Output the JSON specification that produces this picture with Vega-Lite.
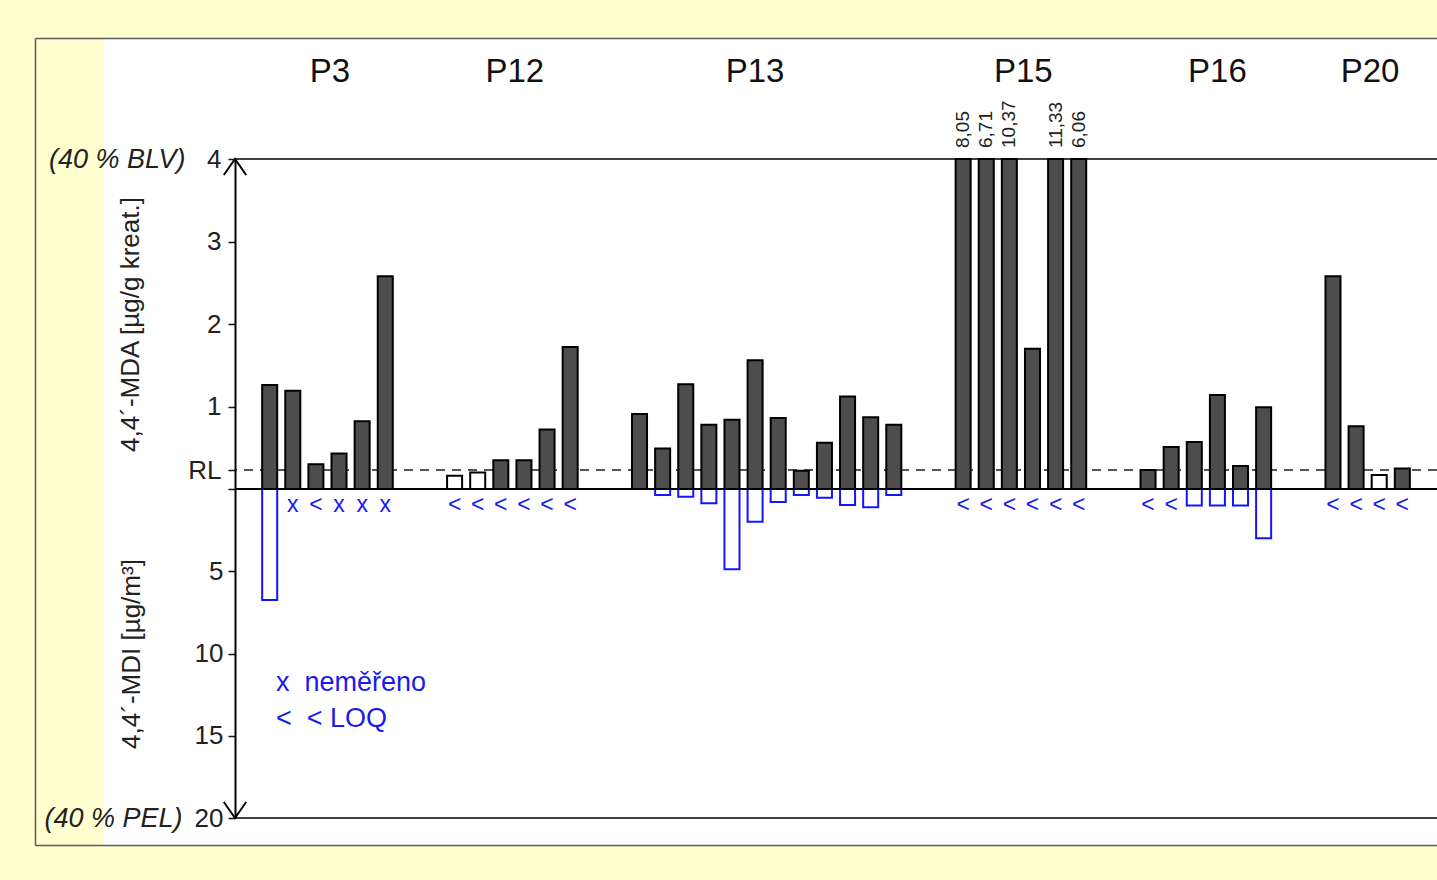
{
  "$schema": "https://vega.github.io/schema/vega-lite/v6.json",
  "width": 1202,
  "height": 807,
  "autosize": {"type": "none"},
  "padding": {"left": 235, "top": 38, "right": 0, "bottom": 35},
  "background": "#FFFFD0",
  "config": {
    "view": {"fill": "#ffffff", "stroke": null},
    "font": "Liberation Sans",
    "axis": {"labelFont": "Liberation Sans", "titleFont": "Liberation Sans", "grid": false},
    "locale": {"number": {"decimal": ",", "thousands": "\u00a0", "grouping": [3], "currency": ["", "\u00a0Kč"]}}
  },
  "data": {
    "values": [
      {"id": "P3-1", "group": "P3", "mda": 1.26, "mdi": 6.75, "mdi_note": null, "mda_below_loq": false},
      {"id": "P3-2", "group": "P3", "mda": 1.19, "mdi": null, "mdi_note": "x", "mda_below_loq": false},
      {"id": "P3-3", "group": "P3", "mda": 0.30, "mdi": null, "mdi_note": "<", "mda_below_loq": false},
      {"id": "P3-4", "group": "P3", "mda": 0.43, "mdi": null, "mdi_note": "x", "mda_below_loq": false},
      {"id": "P3-5", "group": "P3", "mda": 0.82, "mdi": null, "mdi_note": "x", "mda_below_loq": false},
      {"id": "P3-6", "group": "P3", "mda": 2.58, "mdi": null, "mdi_note": "x", "mda_below_loq": false},
      {"id": "P12-1", "group": "P12", "mda": 0.16, "mdi": null, "mdi_note": "<", "mda_below_loq": true},
      {"id": "P12-2", "group": "P12", "mda": 0.20, "mdi": null, "mdi_note": "<", "mda_below_loq": true},
      {"id": "P12-3", "group": "P12", "mda": 0.35, "mdi": null, "mdi_note": "<", "mda_below_loq": false},
      {"id": "P12-4", "group": "P12", "mda": 0.35, "mdi": null, "mdi_note": "<", "mda_below_loq": false},
      {"id": "P12-5", "group": "P12", "mda": 0.72, "mdi": null, "mdi_note": "<", "mda_below_loq": false},
      {"id": "P12-6", "group": "P12", "mda": 1.72, "mdi": null, "mdi_note": "<", "mda_below_loq": false},
      {"id": "P13-1", "group": "P13", "mda": 0.91, "mdi": null, "mdi_note": null, "mda_below_loq": false},
      {"id": "P13-2", "group": "P13", "mda": 0.49, "mdi": 0.36, "mdi_note": null, "mda_below_loq": false},
      {"id": "P13-3", "group": "P13", "mda": 1.27, "mdi": 0.47, "mdi_note": null, "mda_below_loq": false},
      {"id": "P13-4", "group": "P13", "mda": 0.78, "mdi": 0.87, "mdi_note": null, "mda_below_loq": false},
      {"id": "P13-5", "group": "P13", "mda": 0.84, "mdi": 4.88, "mdi_note": null, "mda_below_loq": false},
      {"id": "P13-6", "group": "P13", "mda": 1.56, "mdi": 1.99, "mdi_note": null, "mda_below_loq": false},
      {"id": "P13-7", "group": "P13", "mda": 0.86, "mdi": 0.79, "mdi_note": null, "mda_below_loq": false},
      {"id": "P13-8", "group": "P13", "mda": 0.22, "mdi": 0.36, "mdi_note": null, "mda_below_loq": false},
      {"id": "P13-9", "group": "P13", "mda": 0.56, "mdi": 0.53, "mdi_note": null, "mda_below_loq": false},
      {"id": "P13-10", "group": "P13", "mda": 1.12, "mdi": 0.97, "mdi_note": null, "mda_below_loq": false},
      {"id": "P13-11", "group": "P13", "mda": 0.87, "mdi": 1.11, "mdi_note": null, "mda_below_loq": false},
      {"id": "P13-12", "group": "P13", "mda": 0.78, "mdi": 0.36, "mdi_note": null, "mda_below_loq": false},
      {"id": "P15-1", "group": "P15", "mda": 8.05, "mdi": null, "mdi_note": "<", "mda_below_loq": false},
      {"id": "P15-2", "group": "P15", "mda": 6.71, "mdi": null, "mdi_note": "<", "mda_below_loq": false},
      {"id": "P15-3", "group": "P15", "mda": 10.37, "mdi": null, "mdi_note": "<", "mda_below_loq": false},
      {"id": "P15-4", "group": "P15", "mda": 1.70, "mdi": null, "mdi_note": "<", "mda_below_loq": false},
      {"id": "P15-5", "group": "P15", "mda": 11.33, "mdi": null, "mdi_note": "<", "mda_below_loq": false},
      {"id": "P15-6", "group": "P15", "mda": 6.06, "mdi": null, "mdi_note": "<", "mda_below_loq": false},
      {"id": "P16-1", "group": "P16", "mda": 0.23, "mdi": null, "mdi_note": "<", "mda_below_loq": false},
      {"id": "P16-2", "group": "P16", "mda": 0.51, "mdi": null, "mdi_note": "<", "mda_below_loq": false},
      {"id": "P16-3", "group": "P16", "mda": 0.57, "mdi": 1.01, "mdi_note": null, "mda_below_loq": false},
      {"id": "P16-4", "group": "P16", "mda": 1.14, "mdi": 1.01, "mdi_note": null, "mda_below_loq": false},
      {"id": "P16-5", "group": "P16", "mda": 0.28, "mdi": 1.01, "mdi_note": null, "mda_below_loq": false},
      {"id": "P16-6", "group": "P16", "mda": 0.99, "mdi": 3.0, "mdi_note": null, "mda_below_loq": false},
      {"id": "P20-1", "group": "P20", "mda": 2.58, "mdi": null, "mdi_note": "<", "mda_below_loq": false},
      {"id": "P20-2", "group": "P20", "mda": 0.76, "mdi": null, "mdi_note": "<", "mda_below_loq": false},
      {"id": "P20-3", "group": "P20", "mda": 0.17, "mdi": null, "mdi_note": "<", "mda_below_loq": true},
      {"id": "P20-4", "group": "P20", "mda": 0.25, "mdi": null, "mdi_note": "<", "mda_below_loq": false}
    ]
  },
  "layer": [
    {
      "layer": [
        {
          "data": {"values": [{}]},
          "mark": {"type": "rule", "color": "#555555", "strokeWidth": 2, "strokeDash": [9, 7]},
          "encoding": {"y": {"datum": 0.23, "type": "quantitative", "axis": null}}
        },
        {
          "mark": {"type": "bar", "stroke": "#000000", "strokeWidth": 2},
          "encoding": {
            "x": {
              "field": "id",
              "type": "nominal",
              "scale": {
                "domain": ["_L","P3-1","P3-2","P3-3","P3-4","P3-5","P3-6","g1","g2","P12-1","P12-2","P12-3","P12-4","P12-5","P12-6","g3","g4","P13-1","P13-2","P13-3","P13-4","P13-5","P13-6","P13-7","P13-8","P13-9","P13-10","P13-11","P13-12","g5","g6","P15-1","P15-2","P15-3","P15-4","P15-5","P15-6","g7","g8","P16-1","P16-2","P16-3","P16-4","P16-5","P16-6","g9","g10","P20-1","P20-2","P20-3","P20-4","_R"],
                "paddingInner": 0.35,
                "paddingOuter": 0.175
              },
              "axis": null
            },
            "y": {
              "field": "mda",
              "type": "quantitative",
              "scale": {"domain": [0, 4], "range": [451, 121], "clamp": true, "nice": false, "zero": true},
              "axis": {
                "orient": "left",
                "values": [0, 0.23, 1, 2, 3, 4],
                "labelExpr": "datum.value == 0 ? '' : (datum.value < 0.5 ? 'RL' : toString(datum.value))",
                "labelOverlap": false,
                "labelFontSize": 26,
                "labelColor": "#222222",
                "labelPadding": 7,
                "tickSize": 7,
                "tickColor": "#111111",
                "tickWidth": 1.5,
                "domainColor": "#000000",
                "domainWidth": 2,
                "title": "4,4´-MDA [µg/g kreat.]",
                "titleFontSize": 26,
                "titleFontWeight": "normal",
                "titleColor": "#222222",
                "titlePadding": 44,
                "zindex": 1
              }
            },
            "fill": {"condition": {"test": "datum.mda_below_loq", "value": "#ffffff"}, "value": "#4d4d4d"}
          }
        },
        {
          "transform": [{"filter": "datum.mda > 4"}],
          "mark": {"type": "text", "angle": 270, "align": "left", "baseline": "middle", "dx": 11, "fontSize": 19, "color": "#222222"},
          "encoding": {
            "x": {"field": "id", "type": "nominal", "axis": null},
            "y": {
              "field": "mda",
              "type": "quantitative",
              "axis": {
                "orient": "left",
                "values": [4],
                "labelExpr": "'(40 % BLV)'",
                "labelFontStyle": "italic",
                "labelFontSize": 27,
                "labelColor": "#222222",
                "labelPadding": 50,
                "ticks": false,
                "tickSize": 0,
                "domain": false,
                "title": null,
                "zindex": 1
              }
            },
            "text": {"field": "mda", "type": "quantitative", "format": ".2f"}
          }
        },
        {
          "data": {"values": [{}]},
          "mark": {"type": "rule", "color": "#000000", "strokeWidth": 1.5},
          "encoding": {"y": {"datum": 4, "type": "quantitative", "axis": null}}
        },
        {
          "data": {"values": [{}]},
          "mark": {"type": "point", "shape": "M-0.7,1L0,0L0.7,1", "size": 1024, "filled": false, "stroke": "#000000", "strokeWidth": 2, "opacity": 1},
          "encoding": {
            "x": {"datum": "_L", "type": "nominal", "bandPosition": -0.2692, "axis": null},
            "y": {"datum": 4, "type": "quantitative", "axis": null}
          }
        }
      ],
      "resolve": {"scale": {"y": "shared"}, "axis": {"y": "independent"}}
    },
    {
      "layer": [
        {
          "transform": [{"filter": "isValid(datum.mdi)"}],
          "mark": {"type": "bar", "fill": "#ffffff", "stroke": "#1414ff", "strokeWidth": 2},
          "encoding": {
            "x": {"field": "id", "type": "nominal", "axis": null},
            "y": {
              "field": "mdi",
              "type": "quantitative",
              "scale": {"domain": [0, 20], "range": [451, 780], "nice": false, "zero": true},
              "axis": {
                "orient": "left",
                "values": [5, 10, 15, 20],
                "labelExpr": "toString(datum.value)",
                "labelOverlap": false,
                "labelFontSize": 26,
                "labelColor": "#222222",
                "labelPadding": 5,
                "tickSize": 7,
                "tickColor": "#111111",
                "tickWidth": 1.5,
                "domainColor": "#000000",
                "domainWidth": 2,
                "title": "4,4´-MDI [µg/m³]",
                "titleFontSize": 26,
                "titleFontWeight": "normal",
                "titleColor": "#222222",
                "titlePadding": 50,
                "zindex": 1
              }
            }
          }
        },
        {
          "transform": [{"filter": "datum.mdi_note != null"}],
          "mark": {"type": "text", "fontSize": 23, "color": "#1a1aee", "baseline": "middle"},
          "encoding": {
            "x": {"field": "id", "type": "nominal", "axis": null},
            "y": {
              "datum": 1,
              "type": "quantitative",
              "axis": {
                "orient": "left",
                "values": [20],
                "labelExpr": "'(40 % PEL)'",
                "labelFontStyle": "italic",
                "labelFontSize": 27,
                "labelColor": "#222222",
                "labelPadding": 53,
                "ticks": false,
                "tickSize": 0,
                "domain": false,
                "title": null,
                "zindex": 1
              }
            },
            "text": {"field": "mdi_note", "type": "nominal"}
          }
        },
        {
          "data": {"values": [{}]},
          "mark": {"type": "rule", "color": "#000000", "strokeWidth": 1.5},
          "encoding": {"y": {"datum": 20, "type": "quantitative", "axis": null}}
        },
        {
          "data": {"values": [{}]},
          "mark": {"type": "rule", "color": "#000000", "strokeWidth": 2},
          "encoding": {"y": {"datum": 0, "type": "quantitative", "axis": null}}
        }
      ],
      "resolve": {"scale": {"y": "shared"}, "axis": {"y": "independent"}}
    },
    {
      "layer": [
        {
          "data": {"values": [{}]},
          "mark": {"type": "point", "shape": "M-0.7,-1L0,0L0.7,-1", "size": 1024, "filled": false, "stroke": "#000000", "strokeWidth": 2, "opacity": 1},
          "encoding": {
            "x": {
              "datum": "_L",
              "type": "nominal",
              "bandPosition": -0.2692,
              "axis": {
                "orient": "top",
                "values": ["P13-6", "P16-4"],
                "labelExpr": "split(datum.value, '-')[0]",
                "labelOffset": 0,
                "offset": -43,
                "domain": false,
                "ticks": false,
                "tickSize": 0,
                "labelPadding": 0,
                "labelAngle": 0,
                "labelBaseline": "alphabetic",
                "labelFontSize": 33,
                "labelColor": "#111111",
                "labelOverlap": false,
                "title": null,
                "zindex": 1
              }
            },
            "y": {
              "datum": 20,
              "type": "quantitative",
              "scale": {"domain": [-27.4164, 21.6413], "reverse": true, "nice": false, "zero": false},
              "axis": {
                "orient": "left",
                "offset": 66,
                "domainWidth": 132,
                "domainColor": "#ffffff",
                "ticks": false,
                "labels": false,
                "title": null,
                "zindex": 0
              }
            }
          }
        },
        {
          "data": {"values": [{}]},
          "mark": {"type": "text", "text": ["x\u00a0\u00a0neměřeno", "<\u00a0\u00a0< LOQ"], "align": "left", "baseline": "middle", "lineHeight": 36, "fontSize": 27, "color": "#1a1aee"},
          "encoding": {
            "x": {
              "datum": "P3-1",
              "type": "nominal",
              "bandPosition": 0.92,
              "axis": {
                "orient": "top",
                "values": ["P3-3", "P12-3", "P15-3", "P20-2"],
                "labelExpr": "split(datum.value, '-')[0]",
                "labelOffset": 14,
                "offset": -43,
                "domain": false,
                "ticks": false,
                "tickSize": 0,
                "labelPadding": 0,
                "labelAngle": 0,
                "labelBaseline": "alphabetic",
                "labelFontSize": 33,
                "labelColor": "#111111",
                "labelOverlap": false,
                "title": null,
                "zindex": 1
              }
            },
            "y": {
              "datum": 11.8,
              "type": "quantitative",
              "axis": {
                "orient": "right",
                "offset": -1402,
                "values": [-27.4164, 21.6413],
                "tickSize": 1402,
                "tickColor": "#5a5a5a",
                "tickWidth": 1.5,
                "domainColor": "#5a5a5a",
                "domainWidth": 1.5,
                "labels": false,
                "title": null,
                "zindex": 0
              }
            }
          }
        }
      ],
      "resolve": {"scale": {"y": "shared"}, "axis": {"y": "independent", "x": "independent"}}
    }
  ],
  "resolve": {"scale": {"y": "independent"}, "axis": {"y": "independent"}}
}
